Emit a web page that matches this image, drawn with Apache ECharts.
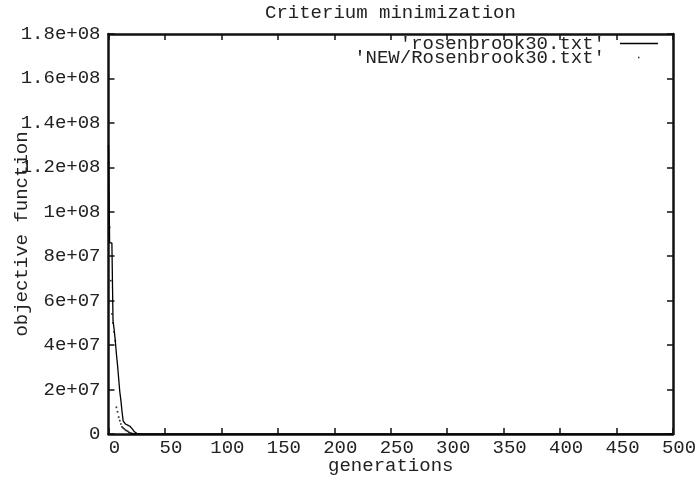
<!DOCTYPE html>
<html><head><meta charset="utf-8">
<script src="https://cdn.jsdelivr.net/npm/echarts@6/dist/echarts.min.js"></script>
<style>html,body{margin:0;padding:0;background:#fff}#c{width:696px;height:481px}</style>
</head><body><div id="c"></div><script>
const chartTitle = 'Criterium minimization';
const xName = 'generations';
const yName = 'objective function';
const seriesNames = ["'rosenbrook30.txt'", "'NEW/Rosenbrook30.txt'"];

const rosenGen = [0, 1, 2, 3, 4, 5, 6, 7, 8, 9, 10, 11, 12, 13, 14, 15, 16, 17, 18, 19, 20, 21, 22, 23, 24, 25, 26, 30, 50, 100, 200, 300, 400, 500];
const rosenVal = [1.3e8, 8.6e7, 8.6e7, 8.6e7, 5.1e7, 4.7e7, 4.2e7, 3.6e7, 3.1e7, 2.5e7, 1.9e7, 1.5e7, 1.0e7, 5.8e6, 5.0e6, 4.5e6, 4.3e6, 4.0e6, 3.8e6, 3.5e6, 3.0e6, 2.3e6, 1.6e6, 1.0e6, 6e5, 3e5, 1.5e5, 8e4, 3e4, 1e4, 5e3, 2e3, 1e3, 5e2];

const newGen = [0, 1, 2, 3, 4, 5, 6, 7, 8, 9, 10, 11, 12, 13, 14, 15, 16, 17, 18, 19, 20, 21, 22, 23, 24];
const newVal = [1.22e8, 9.3e7, 6.9e7, 5.4e7, 5.0e7, 4.6e7, 4.2e7, 1.2e7, 1.0e7, 7.6e6, 6.0e6, 4.5e6, 3.2e6, 2.7e6, 2.3e6, 1.8e6, 1.5e6, 1.2e6, 8e5, 5e5, 3e5, 2e5, 1e5, 6e4, 3e4];

const xMin = 0, xMax = 500, xStep = 50;
const yMin = 0, yMax = 1.8e8, yStep = 2e7;

const FONT = 'Liberation Mono';
const FS = 19;
const TXT = '#222';
const AX = '#111';

function fmtExp(v) {
  if (v === 0) return '0';
  const e = Math.floor(Math.log10(v) + 1e-9);
  let m = Math.round(v / Math.pow(10, e) * 10) / 10;
  return m + 'e+' + String(e).padStart(2, '0');
}

const axisLine = { show: true, onZero: false, lineStyle: { color: AX, width: 2.5 } };
const axisTick = { show: true, inside: true, length: 6, lineStyle: { color: AX, width: 1.5 } };

const chart = echarts.init(document.getElementById('c'), null, { renderer: 'canvas' });
chart.setOption({
  animation: false,
  backgroundColor: '#fff',
  color: ['#000', '#000'],
  title: {
    text: chartTitle, left: 265, top: 3, padding: 0,
    textStyle: { fontFamily: FONT, fontSize: FS, fontWeight: 'normal', color: TXT }
  },
  legend: [
    {
      data: [{ name: seriesNames[0], icon: 'path://M0,0 M10,0 H48 V1.5 H10 Z' }],
      right: 38, top: 34, padding: 0, align: 'right', itemWidth: 48, itemHeight: 1.5,
      selectedMode: false, itemStyle: { color: '#000', borderWidth: 0 },
      textStyle: { fontFamily: FONT, fontSize: FS, color: TXT }
    },
    {
      data: [{ name: seriesNames[1], icon: 'path://M0,0 M48,1.5 M28,0 H29.5 V1.5 H28 Z' }],
      right: 38, top: 48, padding: 0, align: 'right', itemWidth: 48, itemHeight: 1.5,
      selectedMode: false, itemStyle: { color: '#000', borderWidth: 0 },
      textStyle: { fontFamily: FONT, fontSize: FS, color: TXT }
    }
  ],
  grid: { left: 108.5, right: 23, top: 34, bottom: 47, containLabel: false, outerBoundsMode: 'none' },
  xAxis: [
    {
      type: 'value', position: 'bottom', min: xMin, max: xMax, interval: xStep,
      axisLine: axisLine, axisTick: axisTick, splitLine: { show: false },
      axisLabel: { fontFamily: FONT, fontSize: FS, color: TXT, margin: 4, padding: [0, 0, 0, 12] },
      name: xName, nameLocation: 'middle', nameGap: 22, nameMoveOverlap: false,
      nameTextStyle: { fontFamily: FONT, fontSize: FS, color: TXT }
    },
    {
      type: 'value', position: 'top', min: xMin, max: xMax, interval: xStep,
      axisLine: axisLine, axisTick: axisTick, splitLine: { show: false },
      axisLabel: { show: false }
    }
  ],
  yAxis: [
    {
      type: 'value', position: 'left', min: yMin, max: yMax, interval: yStep,
      axisLine: axisLine, axisTick: axisTick, splitLine: { show: false },
      axisLabel: { fontFamily: FONT, fontSize: FS, color: TXT, margin: 8, formatter: fmtExp },
      name: yName, nameLocation: 'middle', nameGap: 77, nameMoveOverlap: false,
      nameTextStyle: { fontFamily: FONT, fontSize: FS, color: TXT }
    },
    {
      type: 'value', position: 'right', min: yMin, max: yMax, interval: yStep,
      axisLine: axisLine, axisTick: axisTick, splitLine: { show: false },
      axisLabel: { show: false }
    }
  ],
  series: [
    {
      name: seriesNames[0], type: 'line', xAxisIndex: 0, yAxisIndex: 0,
      data: rosenGen.map((g, i) => [g, rosenVal[i]]),
      symbol: 'none', lineStyle: { color: '#000', width: 1.3 }, itemStyle: { color: '#000' },
      clip: true, z: 3
    },
    {
      name: seriesNames[1], type: 'scatter', xAxisIndex: 0, yAxisIndex: 0,
      data: newGen.map((g, i) => [g, newVal[i]]),
      symbol: 'rect', symbolSize: 1.7, itemStyle: { color: '#000' }, z: 2
    }
  ]
});
</script></body></html>
